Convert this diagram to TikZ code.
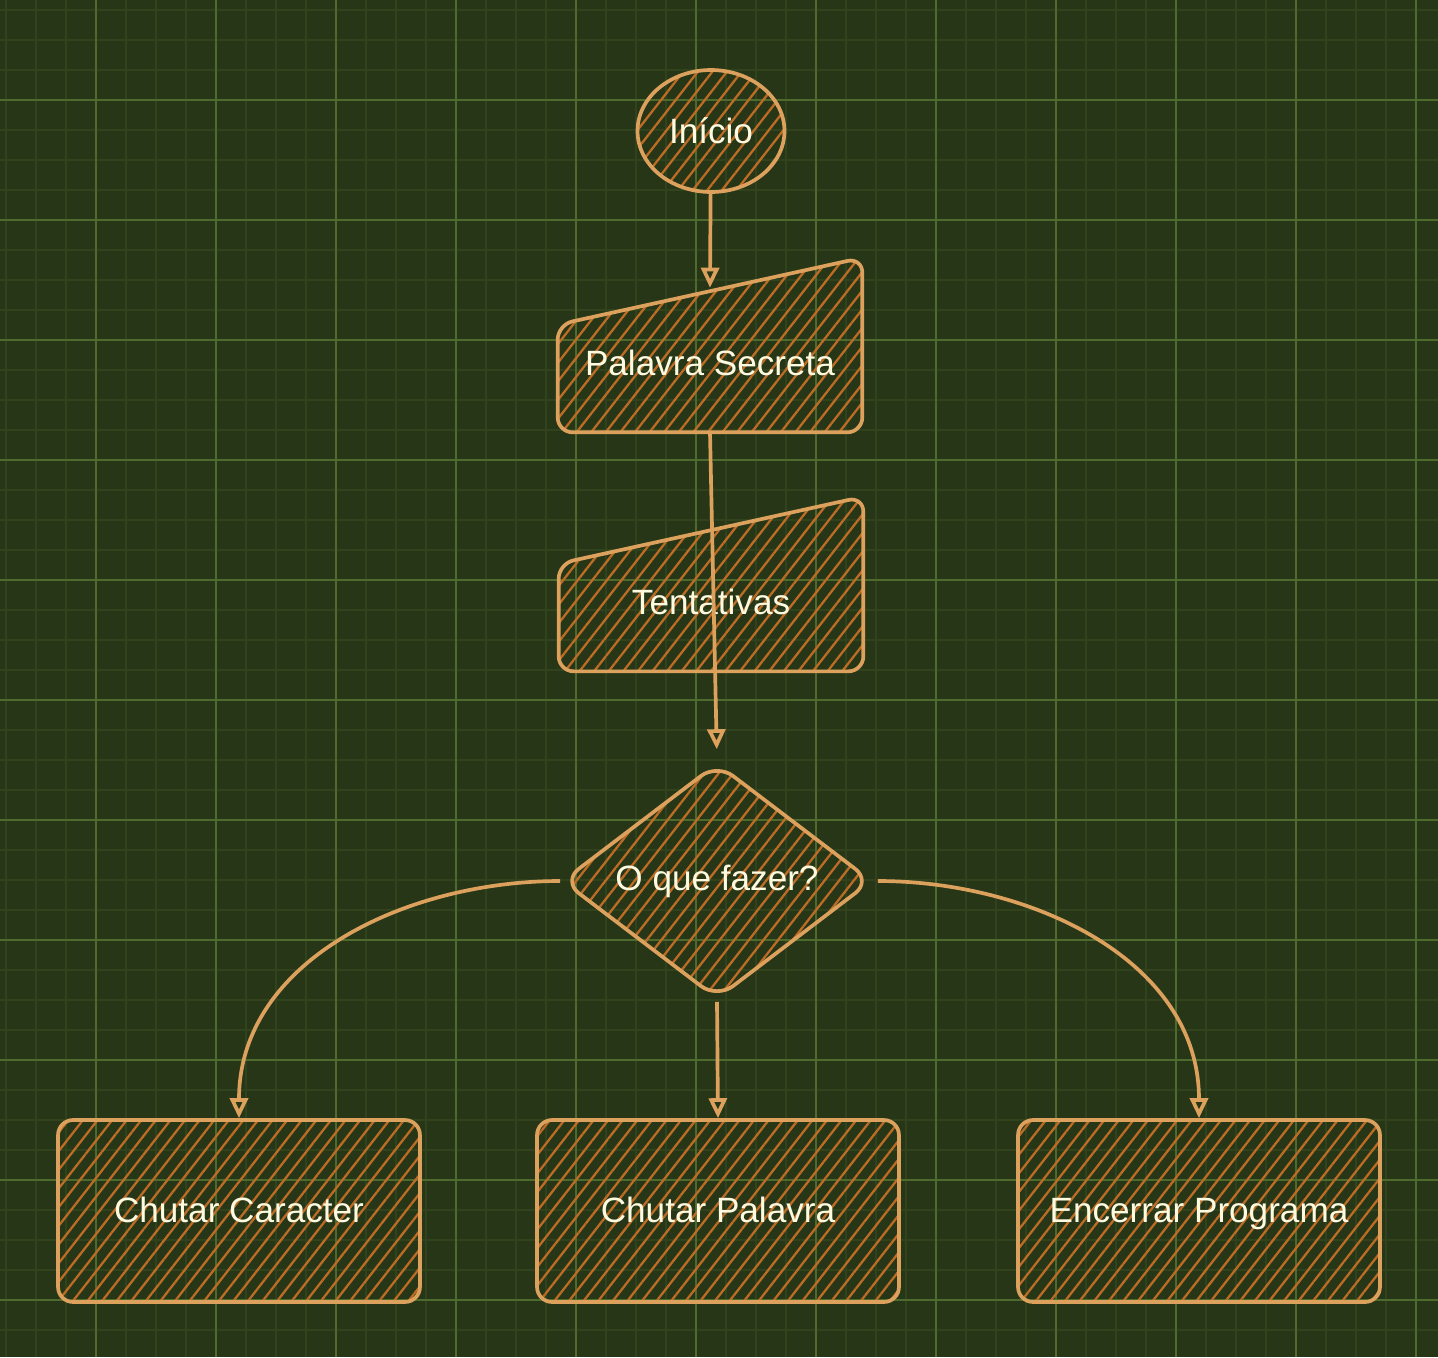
\documentclass[tikz,border=0pt]{standalone}
\usepackage{fontspec}
\setmainfont{Liberation Sans}
\usetikzlibrary{shapes.geometric,arrows.meta,patterns.meta}
\definecolor{moss}{HTML}{283618}
\definecolor{gridminor}{HTML}{31431D}
\definecolor{gridmajor}{HTML}{4E6A2C}
\definecolor{sand}{HTML}{DDA15E}
\definecolor{rust}{HTML}{BC6C25}
\definecolor{silk}{HTML}{FEFAE0}
\pgfdeclarelayer{bg}
\pgfdeclarelayer{shapes}
\pgfsetlayers{bg,shapes,main}
\tikzset{
  hatched/.style={draw=sand,line width=2.1pt,line join=round,
    pattern={Lines[angle=52,distance=0.23cm,line width=1.3pt]},pattern color=rust},
  txt/.style={text=silk,font=\fontsize{20}{24}\selectfont,inner sep=0pt},
  startnode/.style={txt,hatched,ellipse,minimum width=2.94cm,minimum height=2.44cm},
  inbox/.style={txt,minimum width=6.08cm,text height=2.34cm,text depth=1.14cm},
  choice/.style={txt,hatched,diamond,shape aspect=1.31,minimum width=6.2cm,minimum height=4.72cm,rounded corners=0.4cm},
  actbox/.style={txt,hatched,rectangle,rounded corners=0.3cm,minimum width=7.24cm,minimum height=3.64cm,
    text height=15pt,text depth=2pt},
  flow/.style={draw=sand,line width=2.1pt,-{Triangle[open,length=0.4cm,width=0.36cm]}}
}
\begin{document}
\begin{tikzpicture}[x=0.02cm,y=-0.02cm]
  \useasboundingbox (0,0) rectangle (1438,1357);
  \begin{pgfonlayer}{bg}
    \fill[moss] (0,0) rectangle (1438,1357);
    \foreach \x in {6,36,...,1416} \draw[gridminor,line width=0.8pt] (\x,0) -- (\x,1357);
    \foreach \y in {10,40,...,1350} \draw[gridminor,line width=0.8pt] (0,\y) -- (1438,\y);
    \foreach \x in {96,216,...,1416} \draw[gridmajor,line width=0.9pt] (\x,0) -- (\x,1357);
    \foreach \y in {100,220,...,1300} \draw[gridmajor,line width=0.9pt] (0,\y) -- (1438,\y);
  \end{pgfonlayer}

  \node[startnode] (ini) at (711,131) {Início};
  \node[inbox] (pal) at (710,345) {Palavra Secreta};
  \node[inbox] (ten) at (711,584) {Tentativas};
  \node[choice] (dec) at (717,881) {O que fazer?};
  \foreach \x/\nm/\lbl in {239/cc/Chutar Caracter,718/cp/Chutar Palavra,1199/enc/Encerrar Programa}{%
    \node[actbox] (\nm) at (\x,1211) {\lbl};
  }

  \begin{pgfonlayer}{shapes}
    \foreach \nm in {pal,ten}{%
      \draw[hatched,rounded corners=0.3cm] (\nm.south) -- (\nm.south east) -- (\nm.north east)
        -- ([yshift=-1.34cm]\nm.north west) -- (\nm.south west) -- cycle;
    }
  \end{pgfonlayer}

  \draw[flow] (ini) -- ([yshift=-0.6cm]pal.north);
  \draw[flow,shorten >=0.24cm] (pal.south) -- (dec.north);
  \draw[flow] (dec.west) to[out=180,in=90] (cc.north);
  \draw[flow,shorten <=0.02cm] (dec.south) -- (cp.north);
  \draw[flow,shorten <=0.08cm] (dec.east) to[out=0,in=90] (enc.north);
\end{tikzpicture}
\end{document}
